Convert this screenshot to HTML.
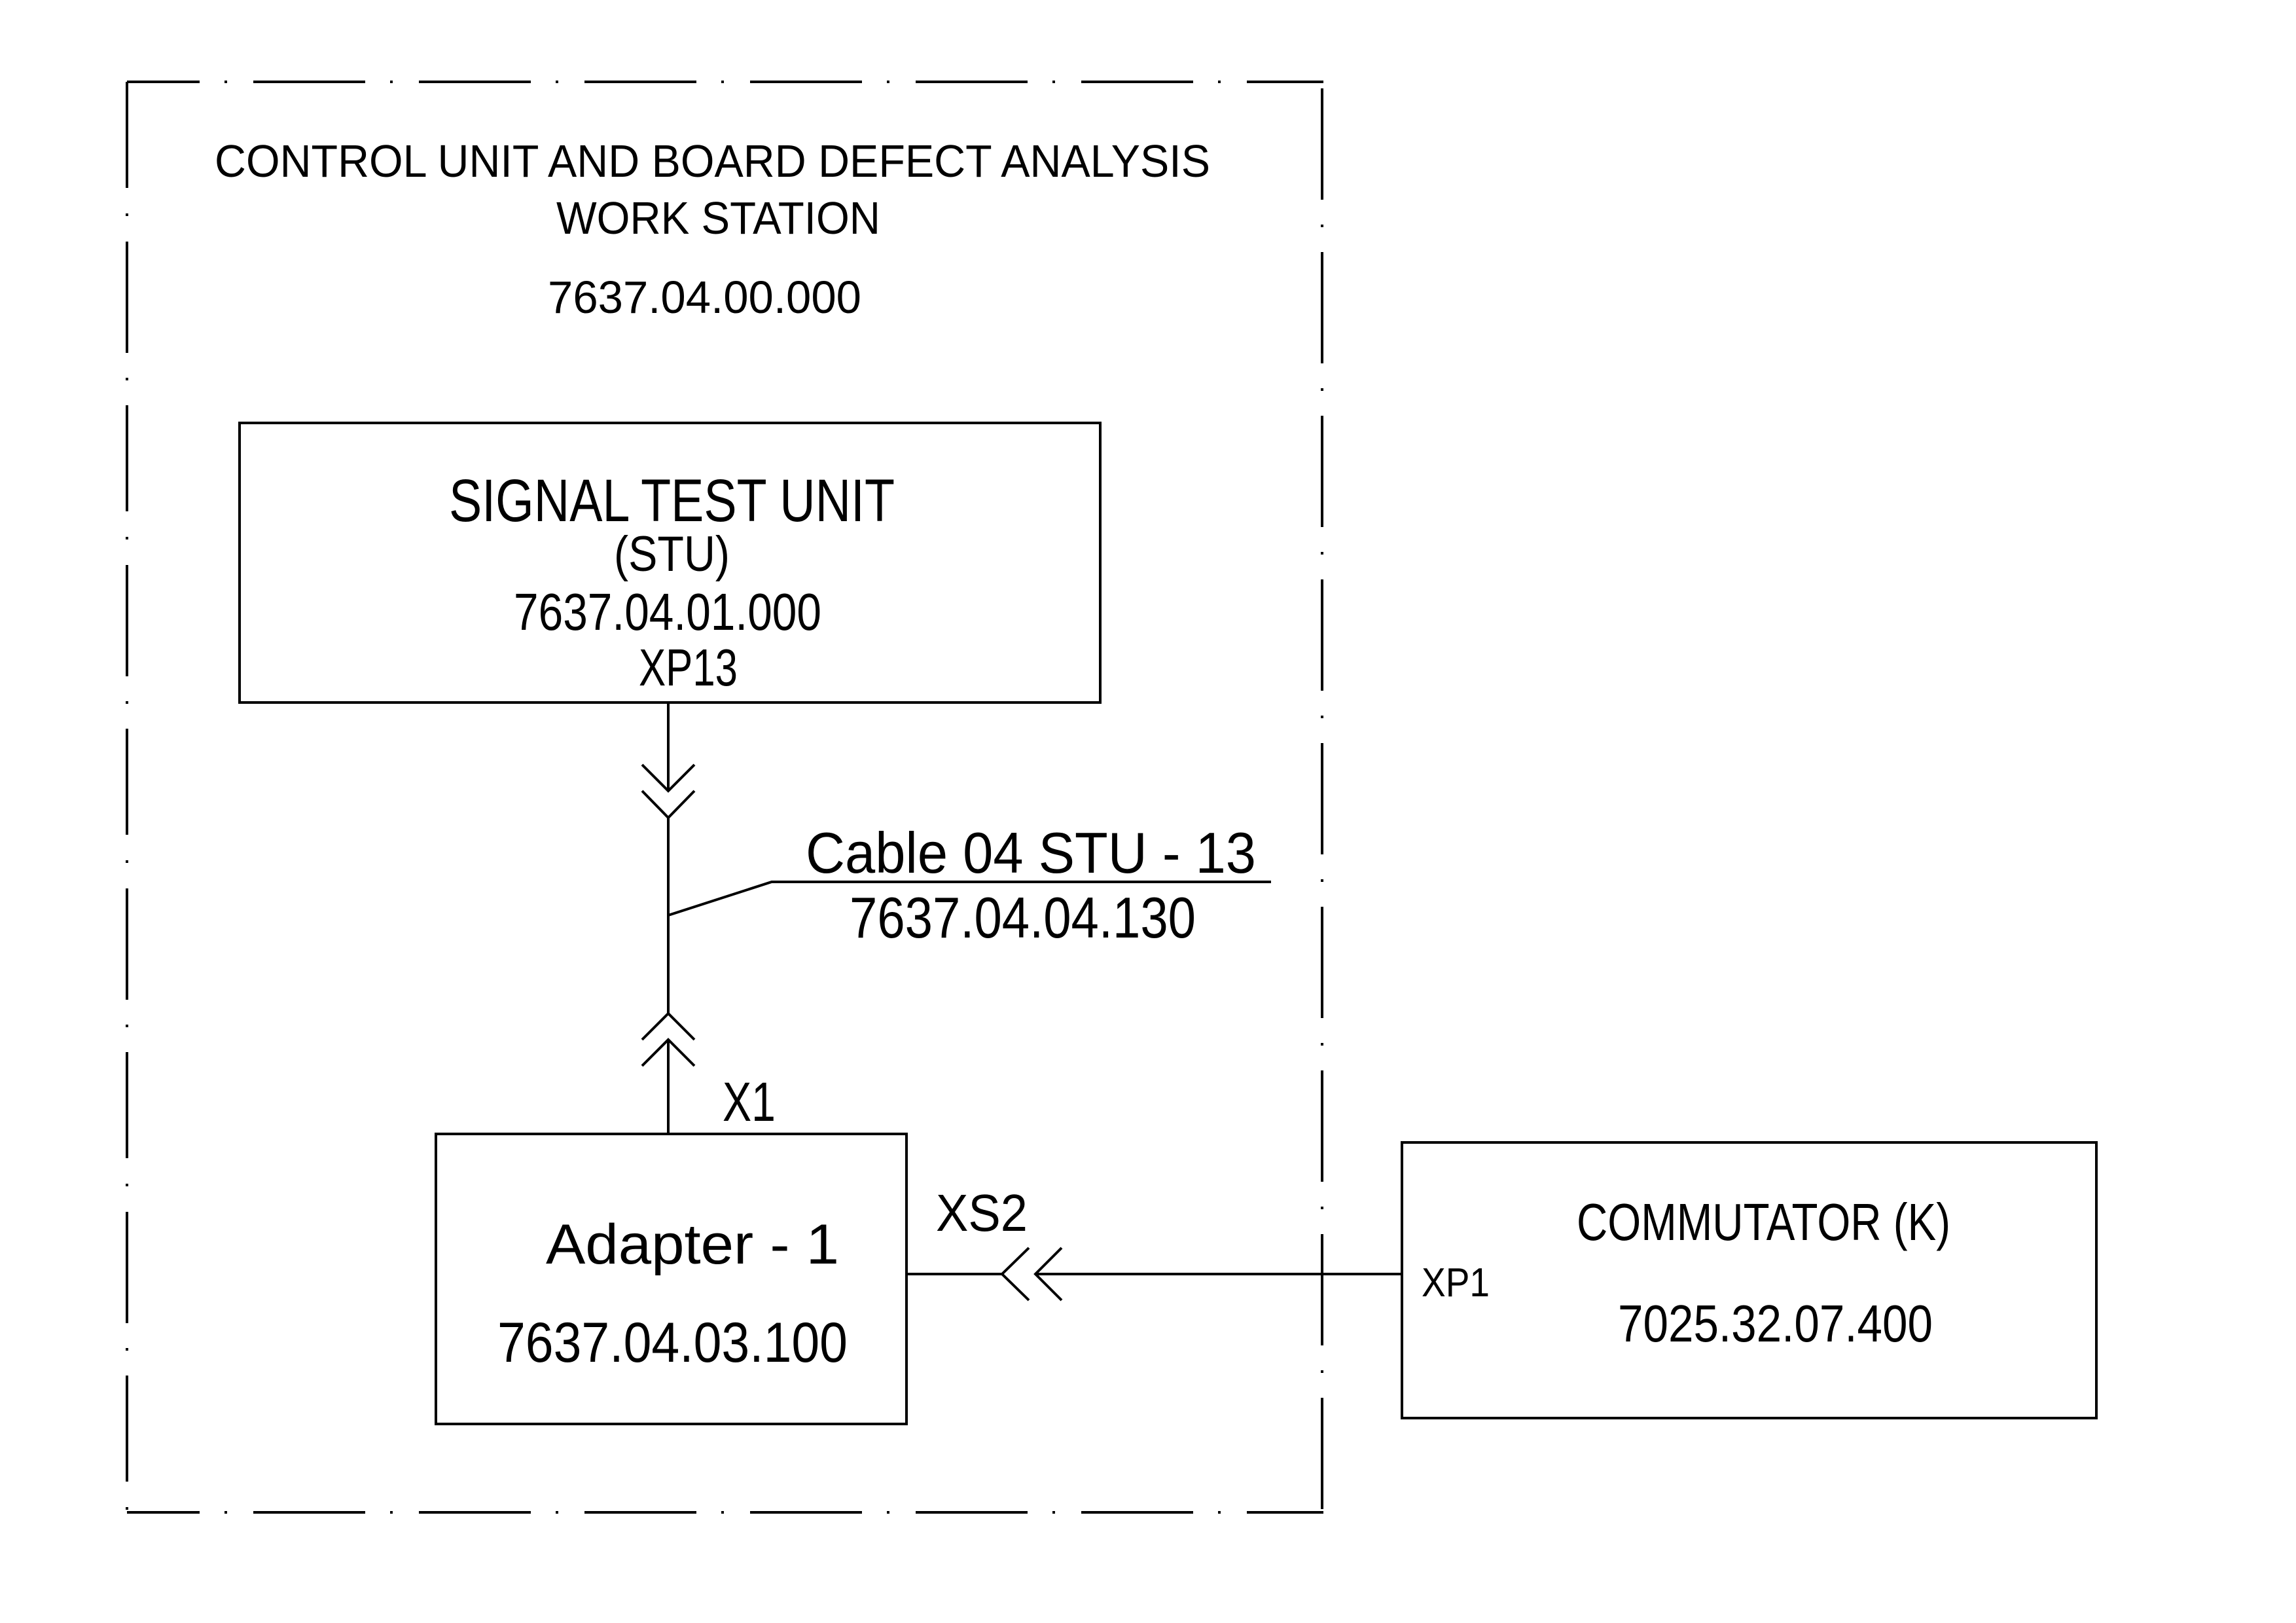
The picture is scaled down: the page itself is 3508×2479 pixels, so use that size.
<!DOCTYPE html>
<html><head><meta charset="utf-8"><style>html,body{margin:0;padding:0;background:#fff}svg{display:block}</style></head>
<body>
<svg width="3508" height="2479" viewBox="0 0 3508 2479" xmlns="http://www.w3.org/2000/svg">
<g stroke="#000" stroke-width="4" fill="none">
<line x1="194" y1="125" x2="2022" y2="125" stroke-dasharray="171 38 4 40" stroke-dashoffset="60"/>
<line x1="194" y1="2310" x2="2022" y2="2310" stroke-dasharray="171 38 4 40" stroke-dashoffset="60"/>
<line x1="194" y1="125" x2="194" y2="2310" stroke-dasharray="162 39 4 39 170 38 4 38" stroke-dashoffset="0"/>
<line x1="2020" y1="125" x2="2020" y2="2310" stroke-dasharray="170 38 4 38" stroke-dashoffset="-10"/>
<rect x="366" y="646" width="1315" height="427"/>
<rect x="666" y="1732" width="719" height="443"/>
<rect x="2142" y="1745" width="1061" height="421"/>
<polyline points="1021,1073 1021,1208"/>
<polyline points="981,1168 1021,1208 1061,1168"/>
<polyline points="981,1208 1021,1249 1061,1208"/>
<polyline points="1021,1249 1021,1548"/>
<polyline points="981,1588 1021,1548 1061,1588"/>
<polyline points="981,1628 1021,1588 1061,1628"/>
<polyline points="1021,1588 1021,1732"/>
<polyline points="1021,1398 1179,1347 1942,1347"/>
<polyline points="1385,1946 1531,1946"/>
<polyline points="1572,1906 1531,1946 1572,1986"/>
<polyline points="1622,1906 1582,1946 1622,1986"/>
<polyline points="1582,1946 2142,1946"/>
</g>
<g font-family="Liberation Sans, sans-serif" fill="#000">
<text x="328" y="270" font-size="70" textLength="1521" lengthAdjust="spacingAndGlyphs">CONTROL UNIT AND BOARD DEFECT ANALYSIS</text>
<text x="850" y="357" font-size="70" textLength="495" lengthAdjust="spacingAndGlyphs">WORK STATION</text>
<text x="837" y="478" font-size="70" textLength="479" lengthAdjust="spacingAndGlyphs">7637.04.00.000</text>
<text x="686" y="796" font-size="92" textLength="681" lengthAdjust="spacingAndGlyphs">SIGNAL TEST UNIT</text>
<text x="938" y="872" font-size="76" textLength="177" lengthAdjust="spacingAndGlyphs">(STU)</text>
<text x="785" y="962" font-size="80" textLength="470" lengthAdjust="spacingAndGlyphs">7637.04.01.000</text>
<text x="976" y="1047" font-size="80" textLength="151" lengthAdjust="spacingAndGlyphs">XP13</text>
<text x="1231" y="1333" font-size="88" textLength="688" lengthAdjust="spacingAndGlyphs">Cable 04 STU - 13</text>
<text x="1298" y="1432" font-size="88" textLength="529" lengthAdjust="spacingAndGlyphs">7637.04.04.130</text>
<text x="1104" y="1712" font-size="84" textLength="81" lengthAdjust="spacingAndGlyphs">X1</text>
<text x="1430" y="1880" font-size="80" textLength="140" lengthAdjust="spacingAndGlyphs">XS2</text>
<text x="834" y="1930" font-size="86" textLength="448" lengthAdjust="spacingAndGlyphs">Adapter - 1</text>
<text x="760" y="2080" font-size="86" textLength="535" lengthAdjust="spacingAndGlyphs">7637.04.03.100</text>
<text x="2409" y="1894" font-size="80" textLength="571" lengthAdjust="spacingAndGlyphs">COMMUTATOR (K)</text>
<text x="2472" y="2049" font-size="80" textLength="481" lengthAdjust="spacingAndGlyphs">7025.32.07.400</text>
<text x="2172" y="1980" font-size="62" textLength="104" lengthAdjust="spacingAndGlyphs">XP1</text>
</g>
</svg>
</body></html>
